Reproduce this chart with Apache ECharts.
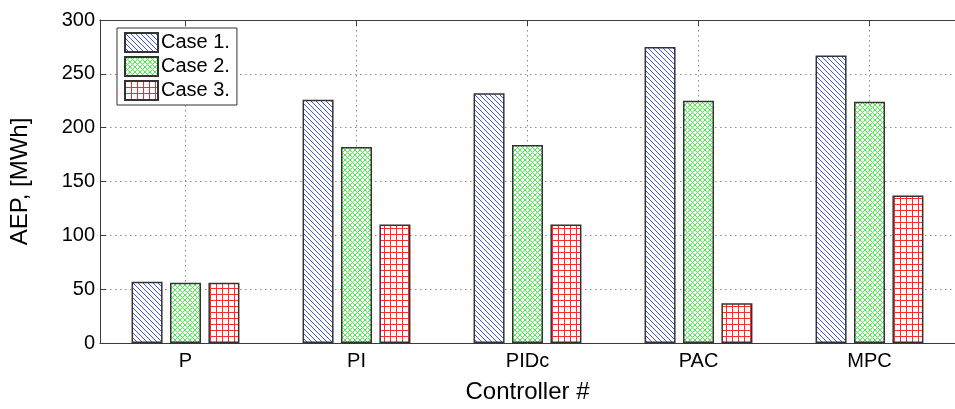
<!DOCTYPE html>
<html>
<head>
<meta charset="utf-8">
<script src="https://cdn.jsdelivr.net/npm/echarts@6/dist/echarts.min.js"></script>
<style>
  html, body { margin: 0; padding: 0; background: #ffffff; }
  #chart { width: 955px; height: 409px; }
</style>
</head>
<body>
<div id="chart"></div>
<script>
// Annual energy production per controller, three cases
const controllers = ['P', 'PI', 'PIDc', 'PAC', 'MPC'];
const caseNames = ['Case 1.', 'Case 2.', 'Case 3.'];
const case1 = [57, 226, 232, 275, 267];
const case2 = [56, 182, 184, 225, 224];
const case3 = [56, 110, 110, 37, 137];
const yTicks = [0, 50, 100, 150, 200, 250, 300];

// Small repeating tiles used as hatch fills
function makeTile(size, draw) {
  const c = document.createElement('canvas');
  c.width = size; c.height = size;
  const g = c.getContext('2d');
  g.fillStyle = '#ffffff';
  g.fillRect(0, 0, size, size);
  draw(g, size);
  return c;
}
const diagTile = makeTile(5, (g, s) => {
  g.strokeStyle = '#4455ee'; g.lineWidth = 1;
  for (let k = -1; k <= 1; k++) {
    g.beginPath(); g.moveTo(0, k * s); g.lineTo(s, s + k * s); g.stroke();
  }
});
const crossTile = makeTile(5, (g, s) => {
  g.strokeStyle = '#44ee44'; g.lineWidth = 1;
  for (let k = -1; k <= 2; k++) {
    g.beginPath(); g.moveTo(0, k * s); g.lineTo(s, s + k * s); g.stroke();
    g.beginPath(); g.moveTo(0, k * s); g.lineTo(s, k * s - s); g.stroke();
  }
});
const gridTile = makeTile(6, (g, s) => {
  g.strokeStyle = '#ff2a2a'; g.lineWidth = 1;
  g.beginPath(); g.moveTo(0.5, 0); g.lineTo(0.5, s); g.stroke();
  g.beginPath(); g.moveTo(0, 0.5); g.lineTo(s, 0.5); g.stroke();
});
const fills = [diagTile, crossTile, gridTile].map(img => ({ image: img, repeat: 'repeat' }));
const values = [case1, case2, case3];

const font = 'Liberation Sans, Arial, Helvetica, sans-serif';
const axisColor = '#3a3a3a';
const gridLine = { show: true, lineStyle: { color: '#8a8a8a', width: 1, type: [1.5, 3.5] } };

const chart = echarts.init(document.getElementById('chart'), null, { renderer: 'canvas' });
chart.setOption({
  animation: false,
  backgroundColor: '#ffffff',
  textStyle: { fontFamily: font },
  grid: { left: 100, top: 20, width: 866.5, height: 331, containLabel: false },
  legend: {
    orient: 'vertical',
    left: 117, top: 28,
    padding: [4, 7, 4, 7],
    itemWidth: 33, itemHeight: 19, itemGap: 3,
    backgroundColor: '#ffffff',
    borderColor: '#333333', borderWidth: 1,
    icon: 'rect',
    textStyle: { fontFamily: font, fontSize: 20, color: '#000000', padding: [0, 0, 0, -2] },
    data: caseNames
  },
  xAxis: [{
    type: 'category',
    data: controllers,
    position: 'bottom',
    axisLine: { show: true, lineStyle: { color: axisColor, width: 1 } },
    axisTick: { show: true, inside: true, length: 6, alignWithLabel: true, lineStyle: { color: axisColor } },
    axisLabel: { fontFamily: font, fontSize: 20, color: '#000000', margin: 8 },
    splitLine: Object.assign({ alignWithLabel: true }, gridLine),
    name: 'Controller #',
    nameLocation: 'middle',
    nameGap: 37,
    nameTextStyle: { fontFamily: font, fontSize: 24, color: '#000000' }
  }, {
    type: 'category',
    data: controllers,
    position: 'top',
    axisLine: { show: true, lineStyle: { color: axisColor, width: 1 } },
    axisTick: { show: true, inside: true, length: 6, alignWithLabel: true, lineStyle: { color: axisColor } },
    axisLabel: { show: false },
    splitLine: { show: false }
  }],
  yAxis: {
    type: 'value',
    min: yTicks[0],
    max: yTicks[yTicks.length - 1],
    interval: yTicks[1] - yTicks[0],
    axisLine: { show: true, lineStyle: { color: axisColor, width: 1 } },
    axisTick: { show: true, inside: true, length: 6, lineStyle: { color: axisColor } },
    axisLabel: { fontFamily: font, fontSize: 20, color: '#000000', margin: 5 },
    splitLine: gridLine,
    name: 'AEP, [MWh]',
    nameLocation: 'middle',
    nameGap: 68,
    nameTextStyle: { fontFamily: font, fontSize: 24, color: '#000000' }
  },
  series: caseNames.map((name, i) => ({
    name: name,
    type: 'bar',
    xAxisIndex: 0,
    data: values[i],
    barWidth: 31,
    barGap: '24%',
    itemStyle: { color: fills[i], borderColor: '#333333', borderWidth: 1.5 }
  }))
});
</script>
</body>
</html>
